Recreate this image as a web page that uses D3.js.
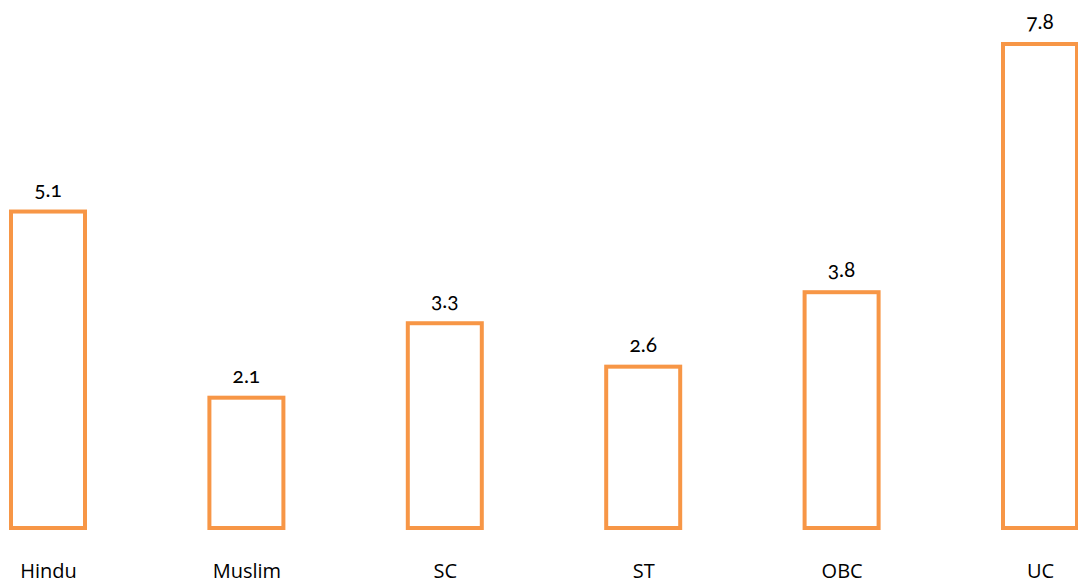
<!DOCTYPE html>
<html><head><meta charset="utf-8">
<script src="https://cdn.jsdelivr.net/npm/d3@7"></script>
<style>body{margin:0;background:#fff;} svg{display:block;}</style>
</head><body>
<script>
const categories = ["Hindu","Muslim","SC","ST","OBC","UC"];
const values = [5.1, 2.1, 3.3, 2.6, 3.8, 7.8];
const labels = ["5.1","2.1","3.3","2.6","3.8","7.8"];

const W = 1078, H = 587;
const svg = d3.select("body").append("svg").attr("width", W).attr("height", H);
const x = d3.scalePoint().domain(categories).range([48, 1040]).padding(0);
const y = d3.scaleLinear().domain([0, 7.8]).range([528, 44]);
const bw = 74;

svg.selectAll("rect.bar").data(values).enter().append("rect")
  .attr("class","bar")
  .attr("x", (d,i) => x(categories[i]) - bw/2)
  .attr("y", d => y(d))
  .attr("width", bw)
  .attr("height", d => y(0) - y(d))
  .attr("fill", "#fff").attr("stroke", "#F79646").attr("stroke-width", 4);

svg.selectAll("text.val").data(values).enter().append("text")
  .attr("class","val")
  .attr("x", (d,i) => x(categories[i]))
  .attr("y", d => y(d) - 15)
  .attr("text-anchor","middle")
  .style("font-family","Lato, 'Open Sans', sans-serif")
  .style("font-variant-numeric","oldstyle-nums")
  .style("font-size","21px").attr("fill","#000")
  .text((d,i) => labels[i]);

const xAxis = d3.axisBottom(x).tickSize(0).tickPadding(0);
const g = svg.append("g").attr("transform","translate(0,578)").call(xAxis);
g.select(".domain").remove();
g.selectAll("text").attr("dy","0")
  .style("font-family","'Open Sans', 'Noto Sans', sans-serif")
  .style("font-size","20px").attr("fill","#000");
</script>
</body></html>
